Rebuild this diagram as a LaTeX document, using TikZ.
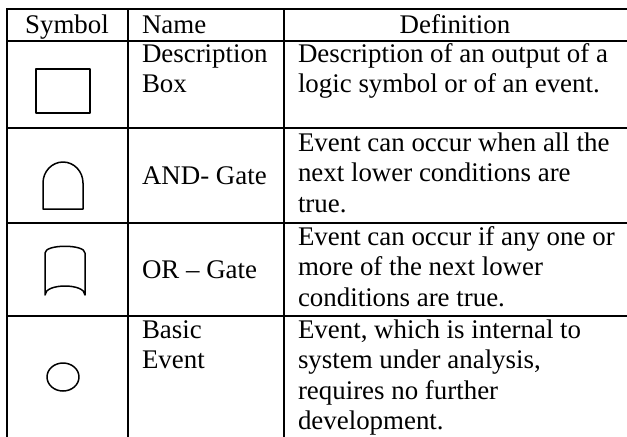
\documentclass[tikz,border=0pt]{standalone}
\usepackage{fontspec}
\setmainfont{Liberation Serif}
\begin{document}
\begin{tikzpicture}[x=0.5pt, y=-0.5pt,
  rule/.style={line width=1pt, line cap=rect},
  sym/.style={line width=0.75pt, line join=round},
  % multi-line cells are placed by the baseline of their last line
  cell/.style={inner sep=0pt, outer sep=0pt, align=left, anchor=base west,
    font=\fontsize{13.45pt}{15.25pt}\selectfont},
  head/.style={inner sep=0pt, outer sep=0pt, anchor=base,
    font=\fontsize{13.45pt}{15.25pt}\selectfont}]
\useasboundingbox (0,0) rectangle (627,436);

% table rules
\draw[rule] (7,8.5) -- (627,8.5);
\draw[rule] (7,41) -- (627,41);
\draw[rule] (7,128) -- (627,128);
\draw[rule] (7,222.5) -- (627,222.5);
\draw[rule] (7,316) -- (627,316);
\draw[rule] (7,8.5) -- (7,440);
\draw[rule] (127.5,8.5) -- (127.5,440);
\draw[rule] (283.5,8.5) -- (283.5,440);

% header
\node[head] (hsym) at (67,33) {Symbol};
\node[cell] (hname) at (142,33) {Name};
\node[head] (hdef) at (455,33) {Definition};

% description box
\draw[sym] (36,69) rectangle (90,113);
\node[cell] (n1) at (142,92.5) {Description\\Box};
\node[cell] (d1) at (298,92.5) {Description of an output of a\\logic symbol or of an event.};

% AND gate
\draw[sym] (43,209) -- (43,183) arc[start angle=180, end angle=360, x radius=20, y radius=21] -- (83,209) -- cycle;
\node[cell] (n2) at (142,184) {AND- Gate};
\node[cell] (d2) at (298,212) {Event can occur when all the\\next lower conditions are\\true.};

% OR gate
\draw[sym] (45,295) -- (45,253) .. controls (45,244) and (85,244) .. (85,253)
  -- (85,295) .. controls (85,283) and (45,283) .. (45,295) -- cycle;
\node[cell] (n3) at (142,278) {OR -- Gate};
\node[cell] (d3) at (298,306) {Event can occur if any one or\\more of the next lower\\conditions are true.};

% basic event
\draw[sym] (63,377) ellipse[x radius=16, y radius=14];
\node[cell] (n4) at (142,368.5) {Basic\\Event};
\node[cell] (d4) at (298,429.5) {Event, which is internal to\\system under analysis,\\requires no further\\development.};
\end{tikzpicture}
\end{document}
